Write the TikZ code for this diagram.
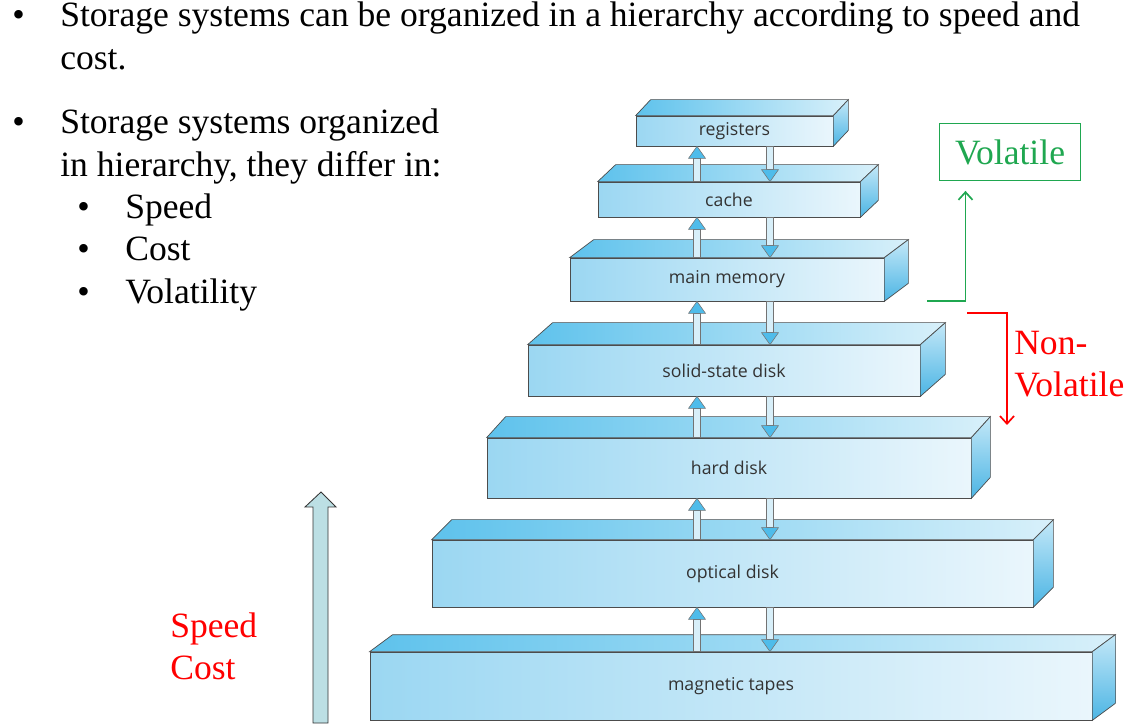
\documentclass[tikz,border=0pt]{standalone}
\usepackage{fontspec}
\setmainfont{Liberation Serif}
\newfontfamily\boxfont{Open Sans}
\usepackage{xcolor}
\usetikzlibrary{arrows.meta,calc}

\definecolor{tierleft}{HTML}{9BD7F2}
\definecolor{tierright}{HTML}{EAF6FC}
\definecolor{topleft}{HTML}{5EC2EC}
\definecolor{topright}{HTML}{D8F0FA}
\definecolor{sidetop}{HTML}{C4E8F8}
\definecolor{sidebot}{HTML}{4CB5E4}
\definecolor{arrblue}{HTML}{4FBCEA}
\definecolor{shaftfill}{HTML}{D8EFF9}
\definecolor{volgreen}{HTML}{1FA750}
\definecolor{bigarrow}{HTML}{BCDFE4}

\tikzset{
  tier/.style={draw=black!70, line width=0.5pt, left color=tierleft, right color=tierright,
    inner sep=0pt, font=\boxfont\fontsize{12.6}{15}\selectfont, text=black!80},
  facetop/.style={draw=black!70, line width=0.5pt, left color=topleft, right color=topright},
  faceside/.style={draw=black!70, line width=0.5pt, top color=sidetop, bottom color=sidebot},
  fatshaft/.style={draw=black!55, line width=0.4pt, fill=shaftfill,
    to path={let \p1=(\tikztostart), \p2=(\tikztotarget), \n1={(\y2>\y1)*2-1} in
      (\x1-2.5pt,\y1) rectangle (\x1+2.5pt,\y2-\n1*8.5pt)}},
  fathead/.style={draw=black!55, line width=0.4pt, fill=arrblue,
    to path={let \p1=(\tikztostart), \p2=(\tikztotarget), \n1={(\y2>\y1)*2-1} in
      (\x1-6pt,\y2-\n1*8.5pt) -- (\x1,\y2) -- (\x1+6pt,\y2-\n1*8.5pt) -- cycle}},
  bodytext/.style={anchor=base west, inner sep=0pt, font=\fontsize{25.3}{30}\selectfont},
  volline/.style={volgreen, line width=1.2pt, -{Straight Barb[length=5.5pt,width=10pt]}},
  nvline/.style={red, line width=1.2pt, -{Straight Barb[length=5.5pt,width=10pt]}},
}

% name, left, top, right, bottom, dx, dy, label
\newcommand{\drawtier}[8]{%
  \node[tier, minimum width={(#4-#2)*0.025cm}, minimum height={(#5-#3)*0.025cm}]
    (#1) at ({(#2+#4)/2},{(#3+#5)/2}) {#8};
  \path[facetop] (#1.north west) -- ++(#6,#7) -- ($(#1.north east)+(#6,#7)$) -- (#1.north east) -- cycle;
  \path[faceside] (#1.north east) -- ++(#6,#7) -- ($(#1.south east)+(#6,#7)$) -- (#1.south east) -- cycle;
}
\newcommand{\tierlink}[2]{\draw[fatshaft] #1 to #2; \draw[fathead] #1 to #2;}

\begin{document}
\begin{tikzpicture}[x=0.025cm, y=-0.025cm]
\useasboundingbox (0,0) rectangle (1140,728);

% text on the left
\node[bodytext] (b1) at (12,27) {\textbullet};
\node[bodytext] (l1) at (60,27) {Storage systems can be organized in a hierarchy according to speed and};
\node[bodytext] (l2) at (60,70) {cost.};
\node[bodytext] (b2) at (12,134) {\textbullet};
\node[bodytext] (l3) at (60,134) {Storage systems organized};
\node[bodytext] (l4) at (60,177) {in hierarchy, they differ in:};
\foreach \y/\t [count=\i] in {219/Speed, 261/Cost, 304/Volatility} {
  \node[bodytext] (sb\i) at (77,\y) {\textbullet};
  \node[bodytext] (st\i) at (125,\y) {\t};
}

% the hierarchy
\drawtier{mt}{370}{652}{1092}{720}{23}{-17}{magnetic tapes}
\drawtier{od}{432}{540}{1033}{607}{20}{-20}{optical disk}
\drawtier{hd}{487}{438}{971}{498}{19}{-21}{hard disk}
\drawtier{ssd}{528}{345}{920}{396}{25}{-22}{solid-state disk}
\drawtier{mm}{570}{258}{884}{301}{24}{-18}{main memory}
\drawtier{ca}{598}{182}{860}{217}{18}{-17}{cache}
\drawtier{reg}{636}{116}{833}{146}{15}{-16}{registers}

\coordinate (upx) at (697,0);
\coordinate (dnx) at (770,0);
\foreach \lo/\hi in {mt/od, od/hd, hd/ssd, ssd/mm, mm/ca, ca/reg} {
  \tierlink{(\lo.north -| upx)}{(\hi.south -| upx)}
  \tierlink{(\hi.south -| dnx)}{(\lo.north -| dnx)}
}

% volatile / non-volatile
\node[draw=volgreen, line width=0.7pt, text=volgreen, minimum width=3.5cm, minimum height=1.42cm,
  inner sep=0pt, font=\fontsize{25.3}{30}\selectfont] (vol) at (1010,152) {Volatile};
\coordinate (volstart) at (927,301);
\draw[volline] (volstart) -| ($(vol.south west)+(26,10)$);
\coordinate (nvstart) at (967,313);
\coordinate (nvend) at (1007,425);
\draw[nvline] (nvstart) -| (nvend);
\node[bodytext, text=red] (nv1) at (1014,355) {Non-};
\node[bodytext, text=red] (nv2) at (1014,397) {Volatile};

% speed / cost arrow
\draw[draw=black!80, line width=0.6pt, fill=bigarrow]
  (313,723) -- (313,507) -- (305,507) -- (321,492) -- (336,507) -- (328,507) -- (328,723) -- cycle;
\node[bodytext, text=red] (sp) at (170,637) {Speed};
\node[bodytext, text=red] (co) at (170,679) {Cost};
\end{tikzpicture}
\end{document}
